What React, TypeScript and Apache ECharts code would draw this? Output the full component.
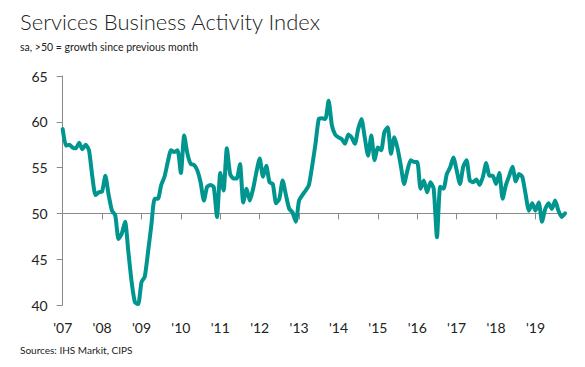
import React, { useEffect, useRef } from "react";
import * as echarts from "echarts";

const startYear = 2007;
const yearLabels = ["'07", "'08", "'09", "'10", "'11", "'12", "'13", "'14", "'15", "'16", "'17", "'18", "'19"];

const values2007 = [59.2, 57.4, 57.5, 57.2, 57.1, 57.7, 57.0, 57.5, 56.9, 54.1, 52.0, 52.3];
const values2008 = [52.4, 54.1, 52.0, 50.3, 49.8, 47.2, 47.8, 49.1, 45.8, 42.5, 40.3, 40.1];
const values2009 = [42.5, 43.1, 45.8, 48.7, 51.6, 51.6, 53.1, 54.0, 55.6, 56.9, 56.7, 56.9];
const values2010 = [54.4, 58.5, 56.5, 55.4, 55.3, 54.7, 53.4, 51.4, 52.9, 53.1, 52.9, 49.6];
const values2011 = [54.4, 52.5, 57.1, 54.3, 53.8, 53.8, 55.4, 51.2, 52.7, 51.4, 52.7, 54.5];
const values2012 = [56.0, 54.0, 55.2, 53.4, 53.2, 51.1, 51.6, 53.6, 52.0, 50.5, 50.1, 49.1];
const values2013 = [51.4, 52.0, 52.5, 53.1, 55.2, 57.6, 60.3, 60.4, 60.3, 62.3, 59.6, 58.6];
const values2014 = [58.3, 58.1, 57.6, 58.6, 58.3, 57.6, 59.2, 60.3, 58.3, 56.3, 58.5, 55.8];
const values2015 = [57.2, 56.9, 58.9, 59.4, 56.5, 58.3, 57.1, 55.2, 53.2, 54.7, 55.8, 55.6];
const values2016 = [55.6, 52.7, 53.6, 52.3, 53.4, 52.7, 47.4, 52.9, 52.7, 54.3, 55.0, 56.1];
const values2017 = [54.7, 53.2, 55.1, 55.8, 53.6, 53.4, 53.7, 53.1, 54.0, 55.5, 54.1, 54.1];
const values2018 = [53.2, 54.4, 51.6, 53.1, 54.1, 55.1, 53.5, 54.3, 54.0, 52.1, 50.3, 51.1];
const values2019 = [50.3, 51.2, 49.1, 50.5, 51.1, 50.5, 51.4, 50.3, 49.6, 50.0];

const allValues = [
  ...values2007, ...values2008, ...values2009, ...values2010, ...values2011,
  ...values2012, ...values2013, ...values2014, ...values2015, ...values2016,
  ...values2017, ...values2018, ...values2019,
];

const months = allValues.map((_, i) => {
  const y = startYear + Math.floor(i / 12);
  const m = (i % 12) + 1;
  return `${y}-${String(m).padStart(2, "0")}`;
});

const yMin = 40;
const yMax = 65;
const yInterval = 5;
const refLevel = 50;

const TITLE = "Services Business Activity Index";
const SUBTITLE = "sa, >50 = growth since previous month";
const SOURCE = "Sources: IHS Markit, CIPS";

export default function App() {
  const ref = useRef<HTMLDivElement>(null);
  useEffect(() => {
    if (!ref.current) return;
    const chart = echarts.init(ref.current, null, { renderer: "svg" });
    const gridTop = 76;
    const gridBottom = 62;
    const gridHeight = 367 - gridTop - gridBottom;
    const refOffset = -((refLevel - yMin) / (yMax - yMin)) * gridHeight;
    const font = "Lato, 'Open Sans', sans-serif";
    const yearLabel = (v: string) => {
      const yr = parseInt(v.slice(0, 4), 10);
      return yearLabels[yr - startYear] ?? "";
    };
    chart.setOption({
      animation: false,
      backgroundColor: "#ffffff",
      grid: { left: 62.7, right: 20, top: gridTop, bottom: gridBottom, containLabel: false },
      graphic: [
        { type: "text", left: 20, top: 10, style: { text: TITLE, font: `300 22px ${font}`, fill: "#222" } },
        { type: "text", left: 20, top: 41, style: { text: SUBTITLE, font: `10.5px ${font}`, fill: "#222" } },
        { type: "text", left: 20, top: 345, style: { text: SOURCE, font: `10px ${font}`, fill: "#222" } },
      ],
      xAxis: [
        {
          type: "category",
          data: months,
          boundaryGap: false,
          axisLine: { show: false },
          axisTick: { show: false },
          axisLabel: {
            interval: 11,
            formatter: yearLabel,
            margin: 15,
            fontSize: 14,
            fontFamily: font,
            color: "#222",
          },
        },
        {
          type: "category",
          data: months,
          boundaryGap: false,
          position: "bottom",
          offset: refOffset,
          axisLine: { show: true, lineStyle: { color: "#8a8a8a", width: 1 } },
          axisTick: { show: true, interval: 11, length: 6, lineStyle: { color: "#8a8a8a" } },
          axisLabel: { show: false },
        },
      ],
      yAxis: {
        type: "value",
        min: yMin,
        max: yMax,
        interval: yInterval,
        axisLine: { show: true, lineStyle: { color: "#8a8a8a", width: 1 } },
        axisTick: { show: true, length: 6, lineStyle: { color: "#8a8a8a" } },
        splitLine: { show: false },
        axisLabel: { margin: 15, fontSize: 14, fontFamily: font, color: "#222" },
      },
      series: [
        {
          type: "line",
          data: allValues,
          xAxisIndex: 0,
          showSymbol: false,
          symbol: "none",
          smooth: 0.2,
          lineStyle: { color: "#00968f", width: 4, join: "round", cap: "round" },
          z: 5,
        },
      ],
    });
    return () => chart.dispose();
  }, []);
  return <div ref={ref} style={{ width: 585, height: 367, position: "absolute", left: 0, top: 0 }} />;
}
